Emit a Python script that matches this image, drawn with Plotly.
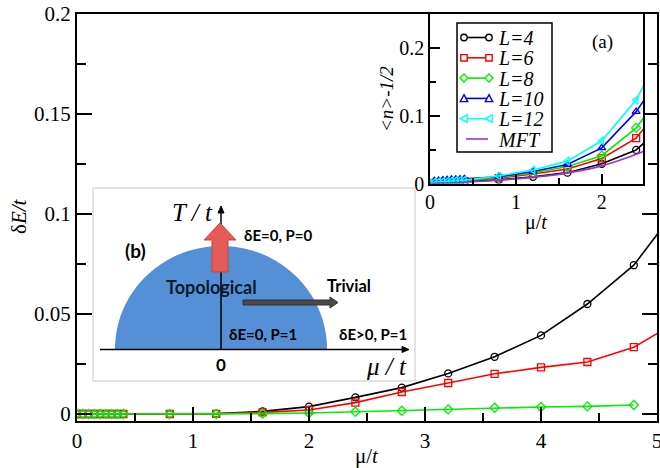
import numpy as np
import plotly.graph_objects as go

# ---------------- data ----------------
mu_main = [0, 0.05, 0.1, 0.15, 0.2, 0.25, 0.3, 0.35, 0.4, 0.8, 1.2, 1.6, 2.0, 2.4, 2.8,
           3.2, 3.6, 4.0, 4.4, 4.8, 5.2]
dE_L4 = [0, 0, 0, 0, 0, 0, 0, 0, 0, 0.0, 0.0002, 0.0013, 0.0037, 0.0083, 0.0132,
         0.0203, 0.0286, 0.0393, 0.055, 0.0744, 0.105]
dE_L6 = [0, 0, 0, 0, 0, 0, 0, 0, 0, 0.0, 0.0001, 0.0008, 0.002, 0.0057, 0.011,
         0.0155, 0.0201, 0.0233, 0.026, 0.0334, 0.047]
mu_main_L8 = [0, 0.05, 0.1, 0.15, 0.2, 0.25, 0.3, 0.35, 0.4, 0.8, 1.2, 1.6, 2.0, 2.4, 2.8,
              3.2, 3.6, 4.0, 4.4, 4.8]
dE_L8 = [0, 0, 0, 0, 0, 0, 0, 0, 0, 0.0, 0.0, 0.0002, 0.0005, 0.0011, 0.0016,
         0.0023, 0.0031, 0.0035, 0.0038, 0.0045]

mu_in = [0, 0.05, 0.1, 0.15, 0.2, 0.25, 0.3, 0.35, 0.4, 0.8, 1.2, 1.6, 2.0, 2.4, 2.8]
n_L4 = [0, 0.0003, 0.0006, 0.0009, 0.0012, 0.0015, 0.0018, 0.0021, 0.0024,
        0.0054, 0.0098, 0.016, 0.029, 0.0495, 0.094]
n_L6 = [0, 0.0005, 0.001, 0.0014, 0.0018, 0.0022, 0.0026, 0.003, 0.0034,
        0.008, 0.014, 0.0215, 0.037, 0.067, 0.13]
n_L8 = [0, 0.0006, 0.0012, 0.0017, 0.0022, 0.0027, 0.0031, 0.0035, 0.0039,
        0.009, 0.0155, 0.025, 0.041, 0.082, 0.15]
n_L10 = [0, 0.004, 0.0045, 0.005, 0.0055, 0.006, 0.0062, 0.0065, 0.007,
         0.010, 0.0176, 0.028, 0.0525, 0.106, 0.18]
n_L12 = [0, 0.002, 0.0025, 0.003, 0.0034, 0.0038, 0.0042, 0.0046, 0.005,
         0.011, 0.020, 0.033, 0.063, 0.123, 0.22]
mu_mft = [0, 0.25, 0.5, 0.75, 1.0, 1.25, 1.5, 1.75, 2.0, 2.25, 2.5]
n_mft = [0, 0.001, 0.0025, 0.0045, 0.0068, 0.0098, 0.0135, 0.019, 0.026, 0.036, 0.048]

labels = ["L=4", "L=6", "L=8", "L=10", "L=12", "MFT"]
colors = ["#000000", "#ff0000", "#00ee00", "#0000ff", "#00ffff", "#9a30e0"]
symbols = ["circle-open", "square-open", "diamond-open", "triangle-up-open", "triangle-left-open"]

SERIF = "Liberation Serif, Times New Roman, serif"
SANS = "Lato, Open Sans, sans-serif"

fig = go.Figure()

# main panel
for xs, ys, lab, c, s in [(mu_main, dE_L4, labels[0], colors[0], symbols[0]),
                          (mu_main, dE_L6, labels[1], colors[1], symbols[1]),
                          (mu_main_L8, dE_L8, labels[2], colors[2], symbols[2])]:
    fig.add_trace(go.Scatter(x=xs, y=ys, mode="lines+markers", name=lab, showlegend=False,
                             line=dict(color=c, width=1.6),
                             marker=dict(symbol=s, size=7, color=c, line=dict(width=1.3, color=c)),
                             xaxis="x", yaxis="y"))

# inset (a)
for xs, ys, lab, c, s in [(mu_in, n_L4, labels[0], colors[0], symbols[0]),
                          (mu_in, n_L6, labels[1], colors[1], symbols[1]),
                          (mu_in, n_L8, labels[2], colors[2], symbols[2]),
                          (mu_in, n_L10, labels[3], colors[3], symbols[3]),
                          (mu_in, n_L12, labels[4], colors[4], symbols[4])]:
    fig.add_trace(go.Scatter(x=xs, y=ys, mode="lines+markers", name=lab, showlegend=False,
                             line=dict(color=c, width=1.6),
                             marker=dict(symbol=s, size=7, color=c, line=dict(width=1.3, color=c)),
                             xaxis="x2", yaxis="y2"))
fig.add_trace(go.Scatter(x=mu_mft, y=n_mft, mode="lines", name=labels[5], showlegend=False,
                         line=dict(color=colors[5], width=1.6, shape="spline"),
                         xaxis="x2", yaxis="y2"))

# ---------------- layout helpers (pixel -> paper) ----------------
W, H = 660, 468
L, R, T, B = 77, 657, 14, 421          # plot area in pixels
def px(x):
    return (x - L) / (R - L)
def py(y):
    return (B - y) / (B - T)

axis_common = dict(showgrid=False, zeroline=False, showline=True, linecolor="black",
                   ticks="inside", tickcolor="black", automargin=False, ticklabeloverflow="allow")

fig.update_layout(
    width=W, height=H,
    margin=dict(l=L, r=W - R, t=T, b=H - B, pad=0),
    paper_bgcolor="white", plot_bgcolor="white",
    font=dict(family=SERIF, color="black", size=20),
    showlegend=False,
    xaxis=dict(**axis_common, domain=[0, 1], anchor="y", range=[0, 5], dtick=1,
               ticklen=14, tickwidth=2, linewidth=2, mirror=True,
               minor=dict(ticks="inside", dtick=0.5, ticklen=8, tickwidth=2, tickcolor="black"),
               tickfont=dict(size=21, family=SERIF)),
    yaxis=dict(**axis_common, domain=[0, 1], anchor="x", range=[-0.0035, 0.2],
               tickvals=[0, 0.05, 0.1, 0.15, 0.2], ticktext=["0", "0.05", "0.1", "0.15", "0.2"],
               ticklen=15, tickwidth=2, linewidth=2, mirror="allticks",
               minor=dict(ticks="inside", dtick=0.025, ticklen=9, tickwidth=2, tickcolor="black"),
               tickfont=dict(size=21, family=SERIF)),
    xaxis2=dict(**axis_common, domain=[px(430), px(643)], anchor="y2", range=[0, 2.48], dtick=1,
                ticklen=10, tickwidth=1.5, linewidth=1.5, mirror=True,
                minor=dict(ticks="inside", dtick=0.5, ticklen=6, tickwidth=1.5, tickcolor="black"),
                tickfont=dict(size=20, family=SERIF)),
    yaxis2=dict(**axis_common, domain=[py(183.5), 1], anchor="x2", range=[0, 0.25],
                tickvals=[0, 0.1, 0.2], ticktext=["0", "0.1", "0.2"],
                ticklen=10, tickwidth=1.5, linewidth=1.5, mirror=True,
                minor=dict(ticks="inside", dtick=0.05, ticklen=6, tickwidth=1.5, tickcolor="black"),
                tickfont=dict(size=20, family=SERIF)),
)

shapes = []
annos = []

def txt(x, y, s, size=14, bold=True, fam=SANS, anchor="left", italic=False, color="black", angle=0):
    annos.append(dict(x=px(x), y=py(y), xref="paper", yref="paper", text=(f"<b>{s}</b>" if bold else s),
                      showarrow=False, xanchor=anchor, yanchor="middle", textangle=angle,
                      font=dict(family=fam, size=size, color=color,
                                style=("italic" if italic else "normal"))))

def path(pts, close=True):
    s = "M " + " L ".join(f"{px(x):.5f},{py(y):.5f}" for x, y in pts)
    return s + (" Z" if close else "")

# axis titles
txt(367, 456, "μ/<i>t</i>", size=21, bold=False, fam=SERIF, anchor="center")
txt(19, 216, "δ<i>E/t</i>", size=21, bold=False, fam=SERIF, anchor="center", angle=-90)
txt(536, 222, "μ/<i>t</i>", size=20, bold=False, fam=SERIF, anchor="center")
txt(386, 99, "&lt;n&gt;-1/2", size=19, bold=False, fam=SERIF, anchor="center", italic=True, angle=-90)
txt(602, 42, "(a)", size=19, bold=False, fam=SERIF, anchor="center")

# ---------------- manual legend for inset (a) ----------------
shapes.append(dict(type="rect", xref="paper", yref="paper", x0=px(457), x1=px(552), y0=py(152), y1=py(23),
                   line=dict(color="black", width=1.5), fillcolor="white", layer="above"))

def marker_shape(kind, x, y, c, r=3.2):
    if kind == "circle-open":
        return dict(type="circle", xref="paper", yref="paper", x0=px(x - r), x1=px(x + r),
                    y0=py(y + r), y1=py(y - r), line=dict(color=c, width=1.4), fillcolor="white", layer="above")
    if kind == "square-open":
        pts = [(x - r, y - r), (x + r, y - r), (x + r, y + r), (x - r, y + r)]
    elif kind == "diamond-open":
        pts = [(x, y - r - 0.8), (x + r + 0.8, y), (x, y + r + 0.8), (x - r - 0.8, y)]
    elif kind == "triangle-up-open":
        pts = [(x, y - r - 0.5), (x + r + 0.5, y + r), (x - r - 0.5, y + r)]
    else:  # triangle-left
        pts = [(x - r - 0.5, y), (x + r, y - r - 0.5), (x + r, y + r + 0.5)]
    return dict(type="path", xref="paper", yref="paper", path=path(pts),
                line=dict(color=c, width=1.4), fillcolor="white", layer="above")

for i, lab in enumerate(labels):
    yy = 37.5 + 20.3 * i
    c = colors[i]
    if i < len(symbols):
        shapes.append(dict(type="line", xref="paper", yref="paper", x0=px(464), x1=px(489), y0=py(yy), y1=py(yy),
                           line=dict(color=c, width=1.6), layer="above"))
        shapes.append(marker_shape(symbols[i], 464, yy, c))
        shapes.append(marker_shape(symbols[i], 489, yy, c))
    else:
        shapes.append(dict(type="line", xref="paper", yref="paper", x0=px(466), x1=px(488), y0=py(yy), y1=py(yy),
                           line=dict(color=c, width=1.6), layer="above"))
    txt(496, yy + 0.5, lab, size=20, bold=False, fam=SERIF, anchor="left", italic=True)

# ---------------- inset (b): schematic ----------------
shapes.append(dict(type="rect", xref="paper", yref="paper", x0=px(93), x1=px(415), y0=py(381), y1=py(188),
                   line=dict(color="#c8c8c8", width=1), fillcolor="white", layer="above"))
cx, cy, rx, ry = 221, 349, 106, 103
t = np.linspace(0, np.pi, 80)
semi = [(cx + rx * np.cos(a), cy - ry * np.sin(a)) for a in t]
shapes.append(dict(type="path", xref="paper", yref="paper", path=path(semi),
                   fillcolor="#5590d6", line=dict(width=0), layer="above"))
shapes.append(dict(type="line", xref="paper", yref="paper", x0=px(100), x1=px(404), y0=py(349.5), y1=py(349.5),
                   line=dict(color="black", width=1.5), layer="above"))
shapes.append(dict(type="path", xref="paper", yref="paper",
                   path=path([(402, 346.5), (409, 349.5), (402, 352.5)]),
                   fillcolor="black", line=dict(color="black", width=1), layer="above"))
shapes.append(dict(type="line", xref="paper", yref="paper", x0=px(221), x1=px(221), y0=py(349.5), y1=py(211),
                   line=dict(color="black", width=1.5), layer="above"))
shapes.append(dict(type="path", xref="paper", yref="paper",
                   path=path([(218, 213), (221, 206), (224, 213)]),
                   fillcolor="black", line=dict(color="black", width=1), layer="above"))
shapes.append(dict(type="path", xref="paper", yref="paper",
                   path=path([(212, 272), (212, 240), (204, 240), (220, 223), (236, 240), (228, 240), (228, 272)]),
                   fillcolor="#e45b5a", line=dict(color="#c94040", width=1), layer="above"))
shapes.append(dict(type="path", xref="paper", yref="paper",
                   path=path([(243, 300), (330, 300), (330, 297), (338, 302.5), (330, 308), (330, 305), (243, 305)]),
                   fillcolor="#4a4a4a", line=dict(color="#333333", width=1), layer="above"))

txt(215, 212, "T / t", size=25, bold=False, fam=SERIF, anchor="right", italic=True)
txt(242, 235, "δE=0, P=0", size=15)
txt(123, 250, "(b)", size=19)
txt(211, 287, "Topological", size=18, anchor="center", color="#0f1a2a")
txt(325, 286, "Trivial", size=16.5)
txt(227, 334, "δE=0, P=1", size=15)
txt(337, 334, "δE>0, P=1", size=15)
txt(221, 364, "0", size=17, anchor="center")
txt(409, 366, "μ / t", size=25, bold=False, fam=SERIF, anchor="right", italic=True)

fig.update_layout(shapes=shapes, annotations=annos)

# remove the browser's default 8px body margin so the figure sits at the window origin
fig.write_html("out.html",
               config={"displayModeBar": False},
               post_script="document.body.style.margin='0';document.body.style.overflow='hidden';")
